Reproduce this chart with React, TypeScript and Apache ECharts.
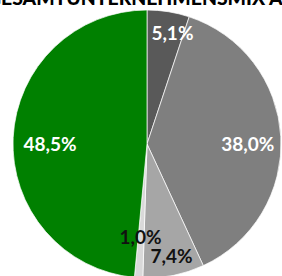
import React, { useEffect, useRef } from "react";
import * as echarts from "echarts";

const categories = ["Kategorie 1", "Kategorie 2", "Kategorie 3", "Kategorie 4", "Kategorie 5"];
const values = [5.1, 38.0, 7.4, 1.0, 48.5];
const colors = ["#595959", "#7f7f7f", "#a6a6a6", "#d9d9d9", "#008000"];
const labelColors = ["#ffffff", "#ffffff", "#111111", "#111111", "#ffffff"];
const labelOffsets = [[9, -10], [-2, 5], [4, 11], [0, -10], [6, 4]];
const titleText = "GESAMTUNTERNEHMENSMIX AT";

const fmt = (v: number) => v.toFixed(1).replace(".", ",") + "%";

export default function App() {
  const ref = useRef<HTMLDivElement>(null);
  useEffect(() => {
    document.body.style.margin = "0";
    const chart = echarts.init(ref.current!, undefined, { renderer: "svg" });
    const center = [147, 144];
    chart.setOption({
      animation: false,
      backgroundColor: "#ffffff",
      graphic: [
        {
          type: "text",
          x: -13,
          y: 7,
          z: 100,
          style: {
            text: titleText,
            fill: "#000000",
            font: "900 19.4px Lato, 'Liberation Sans', sans-serif",
            textAlign: "left",
            textVerticalAlign: "bottom",
          },
        },
      ],
      series: [
        {
          type: "pie",
          center,
          radius: [0, 134],
          startAngle: 90,
          clockwise: true,
          silent: true,
          label: { show: false },
          labelLine: { show: false },
          itemStyle: { borderColor: "rgba(255,255,255,0.7)", borderWidth: 1 },
          data: categories.map((c, i) => ({
            name: c,
            value: values[i],
            itemStyle: { color: colors[i] },
          })),
        },
        {
          type: "pie",
          center,
          radius: [0, 200],
          startAngle: 90,
          clockwise: true,
          silent: true,
          z: 5,
          itemStyle: { color: "rgba(0,0,0,0)" },
          labelLine: { show: false },
          data: categories.map((c, i) => ({
            name: c,
            value: values[i],
            label: {
              show: true,
              position: "inside",
              color: labelColors[i],
              offset: labelOffsets[i],
              formatter: () => fmt(values[i]),
              fontFamily: "Lato, 'Liberation Sans', sans-serif",
              fontWeight: "bold",
              fontSize: 19,
            },
          })),
        },
      ],
    });
    return () => chart.dispose();
  }, []);
  return <div ref={ref} style={{ width: 282, height: 276, position: "absolute", left: 0, top: 0 }} />;
}
